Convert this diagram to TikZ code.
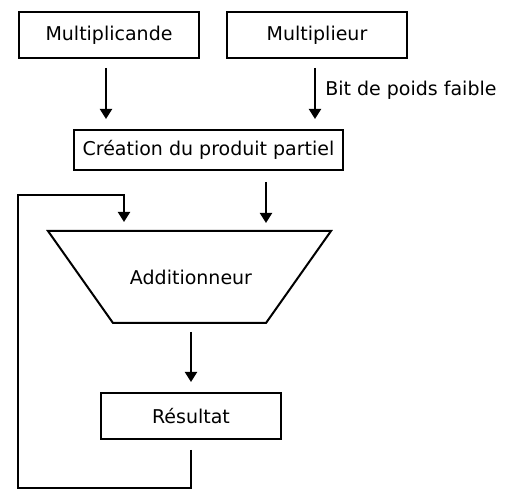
\documentclass[tikz,border=0pt]{standalone}
\usepackage{fontspec}
\setmainfont{DejaVu Sans}
\usetikzlibrary{arrows.meta}

\begin{document}
\begin{tikzpicture}[x=1pt, y=-1pt, line width=2pt,
  >={Triangle[width=12pt, length=10pt]},
  every node/.style={font=\fontsize{19}{21}\selectfont},
  bloc/.style={draw, minimum height=46pt, inner sep=0pt}]

\useasboundingbox (0,0) rectangle (512,502);

% Registres d'entree
\node[bloc, minimum width=180pt] (mcand) at (109,35) {Multiplicande};
\node[bloc, minimum width=180pt] (mplier) at (317,35) {Multiplieur};

% Produit partiel
\node[bloc, minimum width=269pt, minimum height=40pt] (crea) at (208.5,150) {Création du produit partiel};

% Additionneur (trapeze)
\node (add) at (191,277) {Additionneur};
\draw (48,231) -- (331,231) -- (266,323) -- (113,323) -- cycle;
\coordinate (addtop) at (191,231);
\coordinate (addbot) at (191,323);

% Resultat
\node[bloc, minimum width=180pt] (res) at (191,416) {Résultat};

% Fleches
\draw[->, shorten <=9pt, shorten >=10pt] ([xshift=-3pt]mcand.south) -- ([xshift=-3pt]mcand.south |- crea.north);
\draw[->, shorten <=9pt, shorten >=10pt] ([xshift=-2pt]mplier.south) -- ([xshift=-2pt]mplier.south |- crea.north)
  node[midway, right=6pt, yshift=4pt] (bit) {Bit de poids faible};
\draw[->, shorten <=11pt, shorten >=8pt] ([xshift=57.5pt]crea.south) -- ([xshift=57.5pt]crea.south |- addtop);
\draw[->, shorten <=9pt, shorten >=10pt] (addbot) -- (res.north);

% Boucle de retour
\coordinate (bas) at (18,488);
\coordinate (haut) at (18,195);
\draw[->, shorten <=10pt, shorten >=9pt] (res.south) |- (bas) -- (haut) -| ([xshift=-67pt]addtop);

\end{tikzpicture}
\end{document}
